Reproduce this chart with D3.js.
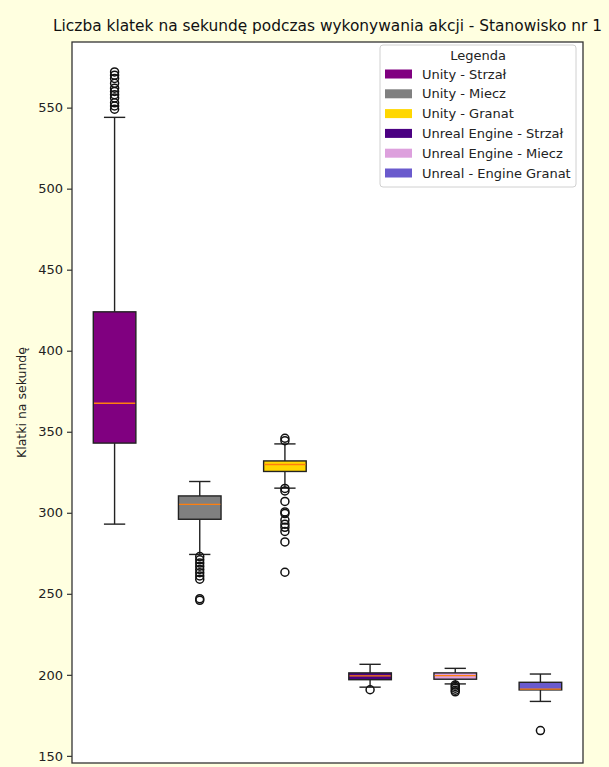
<!DOCTYPE html>
<html>
<head>
  <meta charset="utf-8">
  <title>Liczba klatek na sekundę</title>
  <script src="https://d3js.org/d3.v7.min.js"></script>
  <style>
    body{margin:0;background:#ffffe0;}
    text{font-family:"DejaVu Sans",sans-serif;}
  </style>
</head>
<body>
  <script>
      var w=609;
      var h=767;
      var margin={top:42,right:26,bottom:4,left:72};

      // data
      var categories=["Unity - Strzał","Unity - Miecz","Unity - Granat","Unreal Engine - Strzał","Unreal Engine - Miecz","Unreal - Engine Granat"];
      var colors=["#800080","#808080","#ffd700","#4b0082","#dda0dd","#6a5acd"];
      var q1=[343,296,325.5,197,197.3,190.7];
      var medians=[367.6,305.2,329.8,199.3,199.5,191.2];
      var q3=[424,310.4,332,201.2,201.2,195.4];
      var whiskLow=[293,274.3,315.2,192.4,194.4,183.6];
      var whiskHigh=[544,319.3,342.5,206.5,204,200.5];
      var outliers=[
        [549,551,553,556,558,560,562,565,568,570,572],
        [273,271,269,267,265,263,261,259,247,246],
        [346,344.5,315,313.5,307,300.5,299.5,295.5,293,291,288.5,282,263.3],
        [190.8],
        [193.8,192.8,191.8,190.5,189.5],
        [165.6]
      ];
      var yTicks=[150,200,250,300,350,400,450,500,550];

      var svg=d3.select("body").append("svg")
                .attr("width",w).attr("height",h);

      var x=d3.scaleLinear().domain([0.5,6.5]).range([margin.left,w-margin.right]);
      var y=d3.scaleLinear().domain([145.6,590.5]).range([h-margin.bottom,margin.top]);
      var bw=(x(1.25)-x(0.75));
      var cw=bw/2;
      var lw=1.4;

      svg.append("rect")
         .attr("x",margin.left).attr("y",margin.top)
         .attr("width",w-margin.right-margin.left)
         .attr("height",h-margin.bottom-margin.top)
         .attr("fill","#ffffff");

      var g=svg.selectAll("g.box")
         .data(categories)
         .enter()
         .append("g")
         .attr("class","box");

      g.append("line")
       .attr("x1",function(d,i){return x(i+1);})
       .attr("x2",function(d,i){return x(i+1);})
       .attr("y1",function(d,i){return y(q3[i]);})
       .attr("y2",function(d,i){return y(whiskHigh[i]);})
       .attr("stroke","#222").attr("stroke-width",lw);
      g.append("line")
       .attr("x1",function(d,i){return x(i+1);})
       .attr("x2",function(d,i){return x(i+1);})
       .attr("y1",function(d,i){return y(q1[i]);})
       .attr("y2",function(d,i){return y(whiskLow[i]);})
       .attr("stroke","#222").attr("stroke-width",lw);
      [whiskHigh,whiskLow].forEach(function(arr){
        g.append("line")
         .attr("x1",function(d,i){return x(i+1)-cw/2;})
         .attr("x2",function(d,i){return x(i+1)+cw/2;})
         .attr("y1",function(d,i){return y(arr[i]);})
         .attr("y2",function(d,i){return y(arr[i]);})
         .attr("stroke","#222").attr("stroke-width",lw);
      });

      g.append("rect")
       .attr("x",function(d,i){return x(i+1)-bw/2;})
       .attr("y",function(d,i){return y(q3[i]);})
       .attr("width",bw)
       .attr("height",function(d,i){return y(q1[i])-y(q3[i]);})
       .attr("fill",function(d,i){return colors[i];})
       .attr("stroke","#222").attr("stroke-width",lw);

      g.append("line")
       .attr("x1",function(d,i){return x(i+1)-bw/2+0.7;})
       .attr("x2",function(d,i){return x(i+1)+bw/2-0.7;})
       .attr("y1",function(d,i){return y(medians[i]);})
       .attr("y2",function(d,i){return y(medians[i]);})
       .attr("stroke","#ff7f0e").attr("stroke-width",1.3);

      g.each(function(d,i){
        d3.select(this).selectAll("circle")
          .data(outliers[i])
          .enter()
          .append("circle")
          .attr("cx",x(i+1))
          .attr("cy",function(v){return y(v);})
          .attr("r",4)
          .attr("fill","none")
          .attr("stroke","#111")
          .attr("stroke-width",1.5);
      });

      // axes frame
      svg.append("rect")
         .attr("x",margin.left).attr("y",margin.top)
         .attr("width",w-margin.right-margin.left)
         .attr("height",h-margin.bottom-margin.top)
         .attr("fill","none").attr("stroke","#333").attr("stroke-width",1.3);

      var yAxis=svg.append("g")
         .attr("transform","translate("+margin.left+",0)")
         .call(d3.axisLeft(y).tickValues(yTicks).tickSize(5).tickPadding(4));
      yAxis.select(".domain").remove();
      yAxis.selectAll("line").attr("stroke","#333").attr("stroke-width",1.2);
      yAxis.selectAll("text").attr("font-size",13).attr("fill","#222")
           .attr("font-family","DejaVu Sans");

      svg.append("text")
         .attr("transform","translate(26,"+((margin.top+h-margin.bottom)/2)+") rotate(-90)")
         .attr("text-anchor","middle")
         .attr("font-size",12.5)
         .attr("fill","#222")
         .text("Klatki na sekundę");

      svg.append("text")
         .attr("x",(margin.left+w-margin.right)/2)
         .attr("y",31)
         .attr("text-anchor","middle")
         .attr("font-size",15.4)
         .attr("fill","#111")
         .text("Liczba klatek na sekundę podczas wykonywania akcji - Stanowisko nr 1");

      // legend
      var lg=svg.append("g").attr("transform","translate(380,45)");
      lg.append("rect")
        .attr("width",196).attr("height",142).attr("rx",3)
        .attr("fill","#ffffff").attr("fill-opacity",0.8)
        .attr("stroke","#d0d0d0");
      lg.append("text")
        .attr("x",98).attr("y",15)
        .attr("text-anchor","middle")
        .attr("font-size",13)
        .attr("fill","#222")
        .text("Legenda");
      var items=lg.selectAll("g.item")
        .data(categories)
        .enter()
        .append("g")
        .attr("class","item")
        .attr("transform",function(d,i){return "translate(0,"+(29+i*19.8)+")";});
      items.append("rect")
        .attr("x",5).attr("y",-4.5)
        .attr("width",27).attr("height",9)
        .attr("fill",function(d,i){return colors[i];});
      items.append("text")
        .attr("x",42).attr("y",4.5)
        .attr("font-size",13)
        .attr("fill","#222")
        .text(function(d){return d;});
  </script>
</body>
</html>
